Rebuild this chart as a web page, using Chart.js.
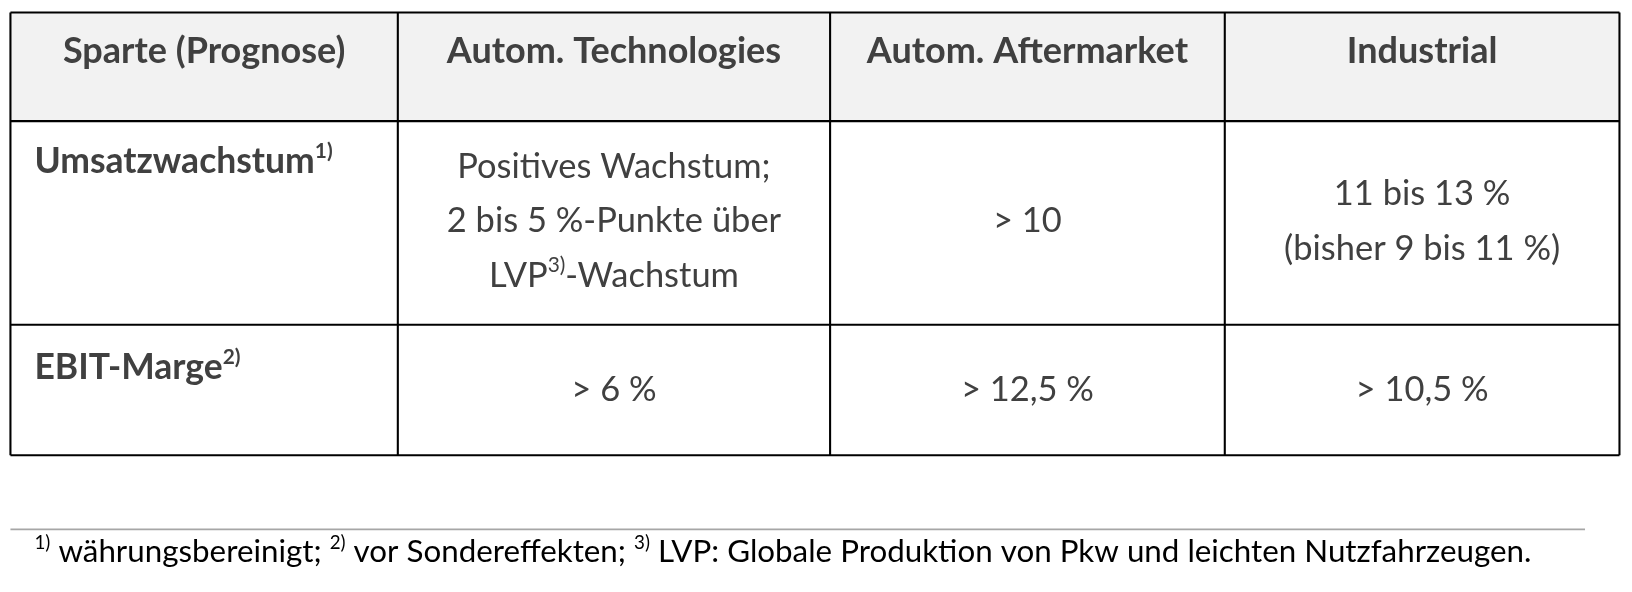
<!DOCTYPE html>
<html><head><meta charset="utf-8">
<script src="https://cdn.jsdelivr.net/npm/chart.js@4/dist/chart.umd.min.js"></script>
<style>html,body{margin:0;padding:0;background:#fff}#w{width:1632px;height:592px}</style>
</head><body><div id="w"><canvas id="c" width="1632" height="592"></canvas></div>
<script>
// Text content (superscripts marked with ^...^)
const headers = ["Sparte (Prognose)", "Autom. Technologies", "Autom. Aftermarket", "Industrial"];
const rowLabels = ["Umsatzwachstum^1)^", "EBIT-Marge^2)^"];
const row1 = [["Positives Wachstum;", "2 bis 5 %-Punkte über", "LVP^3)^-Wachstum"], ["> 10"], ["11 bis 13 %", "(bisher 9 bis 11 %)"]];
const row2 = [["> 6 %"], ["> 12,5 %"], ["> 10,5 %"]];
const footnote = "^1)^ währungsbereinigt; ^2)^ vor Sondereffekten; ^3)^ LVP: Globale Produktion von Pkw und leichten Nutzfahrzeugen.";

const FONT = "Lato, 'Open Sans', sans-serif";
function segs(s){return s.split('^').map((t,i)=>({t,sup:i%2===1})).filter(x=>x.t);}
function measure(ctx,s,size,bold){let w=0;for(const g of segs(s)){ctx.font=(bold?'bold ':'')+(g.sup?Math.round(size*0.6):size)+'px '+FONT;w+=ctx.measureText(g.t).width;}return w;}
function draw(ctx,s,x,y,size,bold,align,color){
  let w=measure(ctx,s,size,bold); let cx=align==='center'?x-w/2:x;
  ctx.fillStyle=color||'#404040';ctx.textBaseline='middle';ctx.textAlign='left';
  for(const g of segs(s)){ctx.font=(bold?'bold ':'')+(g.sup?Math.round(size*0.6):size)+'px '+FONT;
    ctx.fillText(g.t,cx,g.sup?y-size*0.3:y);cx+=ctx.measureText(g.t).width;}
}
const tablePlugin={id:'table',afterDraw(chart){
  const ctx=chart.ctx;ctx.save();ctx.scale(1632/1563,1632/1563);
  const xs=[10,381,795,1173,1551], ys=[12,116,311,436];
  ctx.fillStyle='#f2f2f2';ctx.fillRect(xs[0],ys[0],xs[4]-xs[0],ys[1]-ys[0]);
  ctx.strokeStyle='#000';ctx.lineWidth=2;
  for(const x of xs){ctx.beginPath();ctx.moveTo(x,ys[0]);ctx.lineTo(x,ys[3]);ctx.stroke();}
  for(const y of ys){ctx.beginPath();ctx.moveTo(xs[0],y);ctx.lineTo(xs[4],y);ctx.stroke();}
  headers.forEach((h,i)=>draw(ctx,h,(xs[i]+xs[i+1])/2,49,34.5,true,'center'));
  draw(ctx,rowLabels[0],33,155,34,true,'left');
  draw(ctx,rowLabels[1],33,352,34,true,'left');
  const lh=52;
  row1.forEach((lines,i)=>{const cy=212;const y0=cy-(lines.length-1)*lh/2;
    lines.forEach((l,j)=>draw(ctx,l,(xs[i+1]+xs[i+2])/2,y0+j*lh,33,false,'center'));});
  row2.forEach((lines,i)=>draw(ctx,lines[0],(xs[i+1]+xs[i+2])/2,373,33,false,'center'));
  ctx.strokeStyle='#a6a6a6';ctx.lineWidth=1.5;ctx.beginPath();ctx.moveTo(10,507);ctx.lineTo(1518,507);ctx.stroke();
  draw(ctx,footnote,33,529,30,false,'left','#000');
  ctx.restore();
}};
new Chart(document.getElementById('c'),{type:'bar',
  data:{labels:headers,datasets:[{data:[0,0,0,0]}]},
  options:{responsive:false,animation:false,events:[],
    plugins:{legend:{display:false},tooltip:{enabled:false}},
    scales:{x:{display:false},y:{display:false}}},
  plugins:[tablePlugin]});
</script></body></html>
